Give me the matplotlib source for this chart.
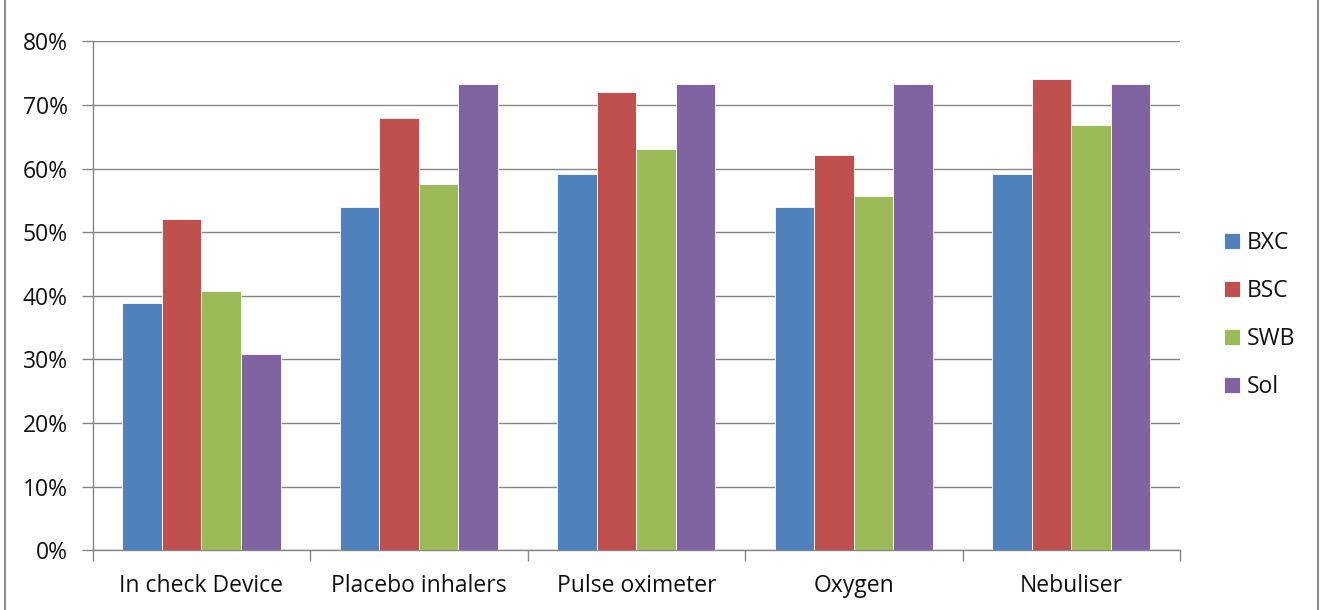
import matplotlib
matplotlib.use("Agg")
import matplotlib.pyplot as plt
from matplotlib.patches import Patch
from matplotlib.lines import Line2D
import numpy as np

categories = ["In check Device", "Placebo inhalers", "Pulse oximeter", "Oxygen", "Nebuliser"]
series_names = ["BXC", "BSC", "SWB", "Sol"]
bxc = [38.8, 54.0, 59.1, 54.0, 59.1]
bsc = [52.0, 68.0, 72.0, 62.2, 74.1]
swb = [40.8, 57.5, 63.0, 55.7, 66.8]
sol = [30.9, 73.3, 73.3, 73.3, 73.3]
colors = ["#4F81BD", "#C0504D", "#9BBB59", "#8064A2"]
y_ticks = [0, 10, 20, 30, 40, 50, 60, 70, 80]

plt.rcParams["font.family"] = ["Open Sans", "DejaVu Sans"]
W, H = 1321, 610
FS = 16.5
TXT = "#111111"
fig = plt.figure(figsize=(W / 100, H / 100), dpi=100)
ax = fig.add_axes([92.7 / W, 1 - 550.3 / H, (1180 - 92.7) / W, (550.3 - 41.3) / H])

grid_c = "#868686"
n = len(categories)
values = [bxc, bsc, swb, sol]
bar_w = 1 / 5.5
x = np.arange(n)
for i, (vals, c) in enumerate(zip(values, colors)):
    offs = (i - 1.5) * bar_w
    ax.bar(x + offs, vals, width=bar_w, color=c, edgecolor="white", linewidth=0.6,
           zorder=3, label=series_names[i])

ax.set_xlim(-0.5, n - 0.5)
ax.set_ylim(0, 80)
ax.set_yticks(y_ticks)
ax.set_yticklabels([f"{t}%" for t in y_ticks])
ax.yaxis.grid(True, color=grid_c, linewidth=1.0, zorder=0)
ax.set_axisbelow(True)

ax.set_xticks(np.arange(n + 1) - 0.5, minor=False)
ax.set_xticklabels([""] * (n + 1))
ax.set_xticks(x, minor=True)
ax.set_xticklabels(categories, minor=True)
ax.tick_params(axis="x", which="major", length=8, width=1, color=grid_c, direction="out")
ax.tick_params(axis="x", which="minor", length=0, pad=17, labelsize=FS, labelcolor=TXT)
ax.tick_params(axis="y", length=8, width=1, color=grid_c, direction="out", pad=10,
               labelsize=FS, labelcolor=TXT)

for s in ["top", "right"]:
    ax.spines[s].set_visible(False)
for s in ["left", "bottom"]:
    ax.spines[s].set_color(grid_c)
    ax.spines[s].set_linewidth(1.0)

handles = [Patch(facecolor=c, edgecolor="white", linewidth=0.6) for c in colors]
fig.legend(handles, series_names, loc="center left",
           bbox_to_anchor=(1203 / W, 1 - 315 / H), frameon=False,
           fontsize=FS, handlelength=0.7, handleheight=0.7, handletextpad=0.3,
           labelspacing=1.05, labelcolor=TXT)

# outer chart border
fig.add_artist(Line2D([5 / W, 5 / W], [0, 1], transform=fig.transFigure, color="#8c8c8c", linewidth=1.5))
fig.add_artist(Line2D([1318 / W, 1318 / W], [0, 1], transform=fig.transFigure, color="#8c8c8c", linewidth=1.5))

fig.savefig("out.png", dpi=100, facecolor="white")
